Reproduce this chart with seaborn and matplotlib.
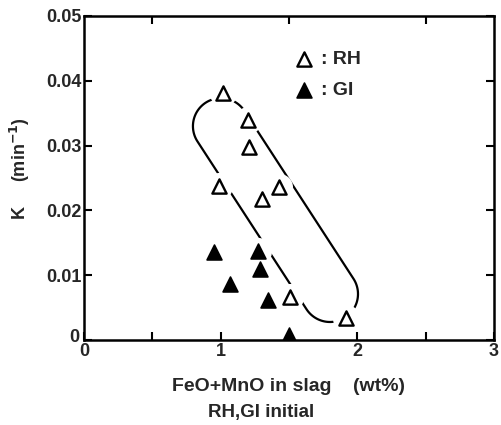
import numpy as np
import matplotlib
matplotlib.use("Agg")
import matplotlib.pyplot as plt
import matplotlib.transforms as mtrans
import seaborn as sns

# ---- data ----
rh_x = [1.02, 1.20, 1.21, 0.99, 1.43, 1.30, 1.51, 1.92]
rh_y = [0.0381, 0.0340, 0.0298, 0.0238, 0.0236, 0.0217, 0.0067, 0.0034]
gi_x = [0.95, 1.27, 1.29, 1.07, 1.35, 1.50]
gi_y = [0.0136, 0.0137, 0.0110, 0.0086, 0.0062, 0.0008]

x_ticks = [0, 1, 2, 3]
y_ticks = [0, 0.01, 0.02, 0.03, 0.04, 0.05]
y_tick_labels = ["0", "0.01", "0.02", "0.03", "0.04", "0.05"]

# loop (enclosing capsule) : centres of the two end arcs in data units
loop_c1 = (1.002, 0.0330)
loop_c2 = (1.800, 0.0071)
loop_radius_px = 28

sns.set_theme(style="white")
plt.rcParams["font.family"] = ["Liberation Sans", "DejaVu Sans"]
plt.rcParams["font.weight"] = "bold"

fig = plt.figure(figsize=(5.02, 4.25), dpi=100)
W, H = 502, 425
ax = fig.add_axes([84 / W, 1 - 340 / H, (494 - 84) / W, (340 - 16) / H])
ax.set_xlim(0, 3)
ax.set_ylim(0, 0.05)

# capsule drawn in display space
t = ax.transData
p1 = np.array(t.transform(loop_c1))
p2 = np.array(t.transform(loop_c2))
d = (p2 - p1) / np.linalg.norm(p2 - p1)
base = np.arctan2(d[1], d[0])
r = loop_radius_px
a1 = np.linspace(base + np.pi / 2, base + 3 * np.pi / 2, 60)
a2 = np.linspace(base - np.pi / 2, base + np.pi / 2, 60)
pts = np.vstack([
    np.column_stack([p1[0] + r * np.cos(a1), p1[1] + r * np.sin(a1)]),
    np.column_stack([p2[0] + r * np.cos(a2), p2[1] + r * np.sin(a2)]),
])
pts = np.vstack([pts, pts[:1]])
loop = t.inverted().transform(pts)
ax.plot(loop[:, 0], loop[:, 1], color="black", lw=1.6, zorder=2)

# white halos (gaps in the hand-drawn loop around markers)
sns.scatterplot(x=rh_x + gi_x, y=rh_y + gi_y, marker="o", s=380,
                color="white", linewidth=0, ax=ax, zorder=3)

sns.scatterplot(x=rh_x, y=rh_y, marker="^", s=105, facecolor="white",
                edgecolor="black", linewidth=1.7, ax=ax, zorder=4,
                label=": RH")
sns.scatterplot(x=gi_x, y=gi_y, marker="^", s=115, color="black",
                edgecolor="black", linewidth=1.2, ax=ax, zorder=4,
                label=": GI")

leg = ax.legend(loc="center left", bbox_to_anchor=(0.512, 0.818),
                frameon=False, fontsize=14, handlelength=1.0,
                handletextpad=0.4, labelspacing=0.7, borderpad=0,
                borderaxespad=0)
for txt in leg.get_texts():
    txt.set_fontweight("bold")

for s in ax.spines.values():
    s.set_color("black")
    s.set_linewidth(1.8)
    s.set_zorder(5)

ax.set_xticks(x_ticks)
ax.set_xticklabels([str(v) for v in x_ticks])
ax.set_yticks(y_ticks)
ax.set_yticklabels(y_tick_labels)
ax.set_xticks([0.5, 1.5, 2.5], minor=True)
ax.tick_params(axis="both", which="both", direction="in", color="black",
               width=1.5, length=6, labelsize=13, pad=2,
               top=False, right=True, bottom=True, left=True)
ax.tick_params(axis="x", which="minor", top=True, bottom=True)
for lab in ax.get_xticklabels() + ax.get_yticklabels():
    lab.set_fontweight("bold")
# lift the y "0" a little so it does not collide with the x "0"
y0 = ax.get_yticklabels()[0]
y0.set_transform(y0.get_transform() +
                 mtrans.ScaledTranslation(-2 / 100, 4 / 100, fig.dpi_scale_trans))

ax.set_xlabel("FeO+MnO in slag    (wt%)", fontsize=14, fontweight="bold",
              labelpad=13)
ax.set_ylabel("K     (min$^{-1}$)", fontsize=13, fontweight="bold")
ax.yaxis.label.set_va("center")
ax.yaxis.set_label_coords((20 - 84) / 410, 0.53)
fig.text(261 / W, 1 - 413 / H, "RH,GI initial", fontsize=13.5,
         fontweight="bold", ha="center", va="center")

fig.savefig("out.png", dpi=100)
